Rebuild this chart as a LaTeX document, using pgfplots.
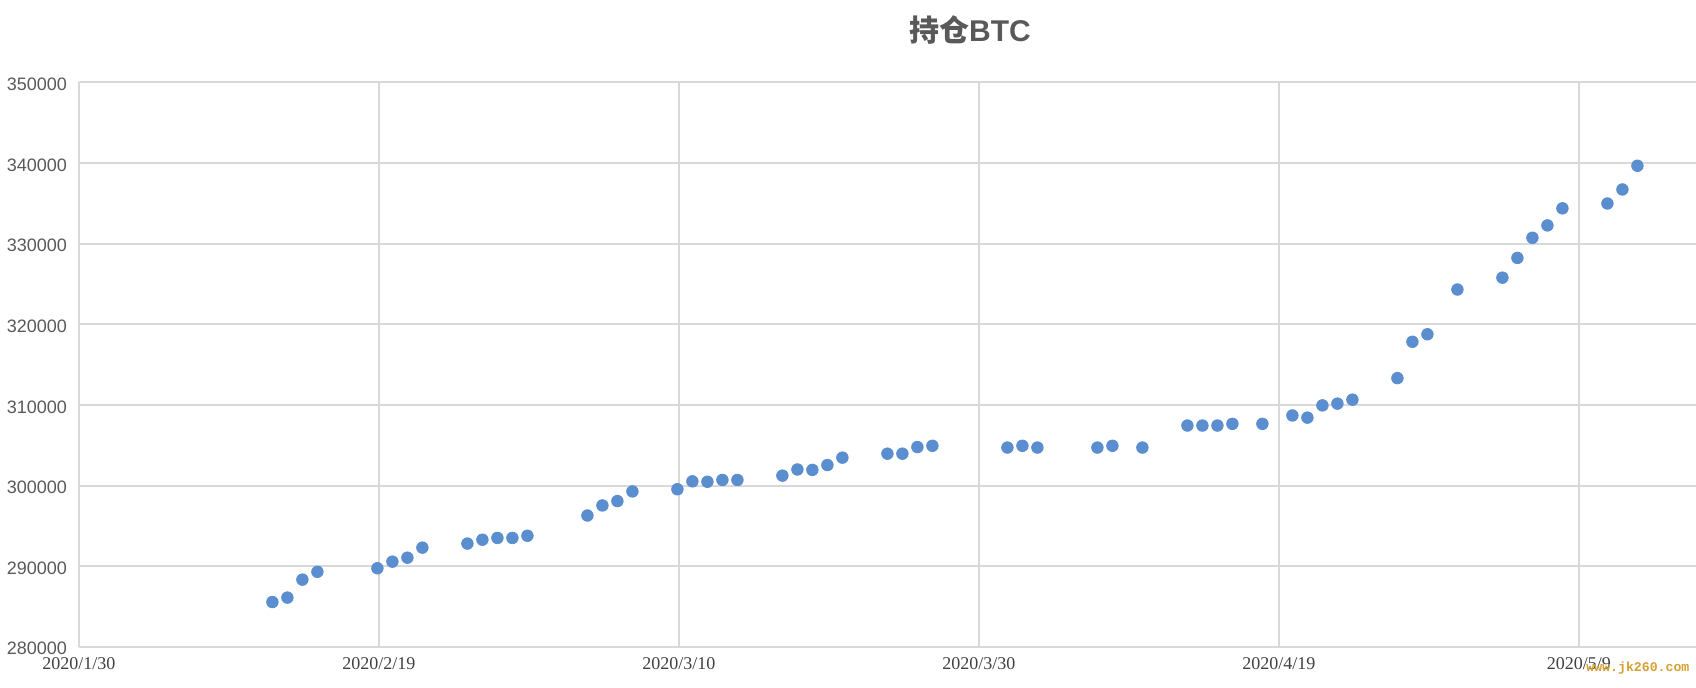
\documentclass[border=0pt]{standalone}
\usepackage{pgfplots}
\pgfplotsset{compat=1.18}
\usepackage{fontspec}
\setmainfont{Liberation Serif}
\newfontfamily\arialf{Liberation Sans}
\newfontfamily\cjk{Noto Sans CJK SC}
\newfontfamily\monof{Liberation Mono}
\definecolor{gridc}{RGB}{217,217,217}
\definecolor{ptc}{RGB}{91,142,207}
\definecolor{txtc}{RGB}{89,89,89}
\definecolor{xtxt}{RGB}{64,64,64}
\definecolor{wm}{RGB}{212,160,48}
\begin{document}
\begin{tikzpicture}[x=0.5pt,y=0.5pt]
\useasboundingbox (0,0) rectangle (1696,688);
\begin{axis}[
  at={(39.45pt,20.6pt)}, anchor=south west,
  scale only axis,
  width=808.5pt, height=282.2pt,
  xmin=0, xmax=107.8,
  ymin=280000, ymax=350000,
  xtick={0,20,40,60,80,100},
  xticklabels={2020/1/30,2020/2/19,2020/3/10,2020/3/30,2020/4/19,2020/5/9},
  ytick={280000,290000,300000,310000,320000,330000,340000,350000},
  scaled y ticks=false,
  yticklabel={{\fontsize{9}{11}\selectfont\arialf\pgfmathprintnumber[fixed,1000 sep={}]{\tick}}},
  /pgf/number format/assume math mode=true,
  grid=major,
  major grid style={draw=gridc, line width=1pt},
  axis line style={draw=gridc, line width=1pt},
  axis x line*=bottom, axis y line*=left,
  major tick length=0pt,
  tick style={draw=none},
  y tick label style={text=txtc, inner sep=0pt, xshift=-5.8pt, yshift=-1pt},
  x tick label style={font=\fontsize{9}{11}\selectfont, text=xtxt, inner sep=0pt, yshift=-5pt},
  clip=false,
]
\addplot[only marks, mark=*, mark size=2.9pt, mark options={fill=ptc, draw=ptc}] coordinates {
(12.9,285550) (13.9,286100) (14.9,288330) (15.9,289300)
(19.9,289740) (20.9,290560) (21.9,291050) (22.9,292300)
(25.9,292800) (26.9,293280) (27.9,293500) (28.9,293500) (29.9,293770)
(33.9,296280) (34.9,297530) (35.9,298070) (36.9,299270)
(39.9,299540) (40.9,300520) (41.9,300470) (42.9,300690) (43.9,300690)
(46.9,301230) (47.9,301990) (48.9,301940) (49.9,302540) (50.9,303460)
(53.9,303950) (54.9,303950) (55.9,304770) (56.9,304930)
(61.9,304710) (62.9,304930) (63.9,304710)
(67.9,304710) (68.9,304930) (70.9,304710)
(73.9,307440) (74.9,307440) (75.9,307440) (76.9,307650) (78.9,307650)
(80.9,308690) (81.9,308420) (82.9,309940) (83.9,310160) (84.9,310650)
(87.9,313320) (88.9,317830) (89.9,318760) (91.9,324310)
(94.9,325780) (95.9,328230) (96.9,330730) (97.9,332260) (98.9,334380)
(101.9,334980) (102.9,336720) (103.9,339660)
};
\end{axis}
\node[text=txtc, font=\fontsize{15}{18}\selectfont\bfseries] at (970,658) {{\cjk\bfseries 持仓}{\arialf\bfseries BTC}};
\node[text=wm, font=\fontsize{6.6}{8}\selectfont\monof\bfseries, anchor=west, inner sep=0pt] at (1586,20) {www.jk260.com};
\end{tikzpicture}
\end{document}
